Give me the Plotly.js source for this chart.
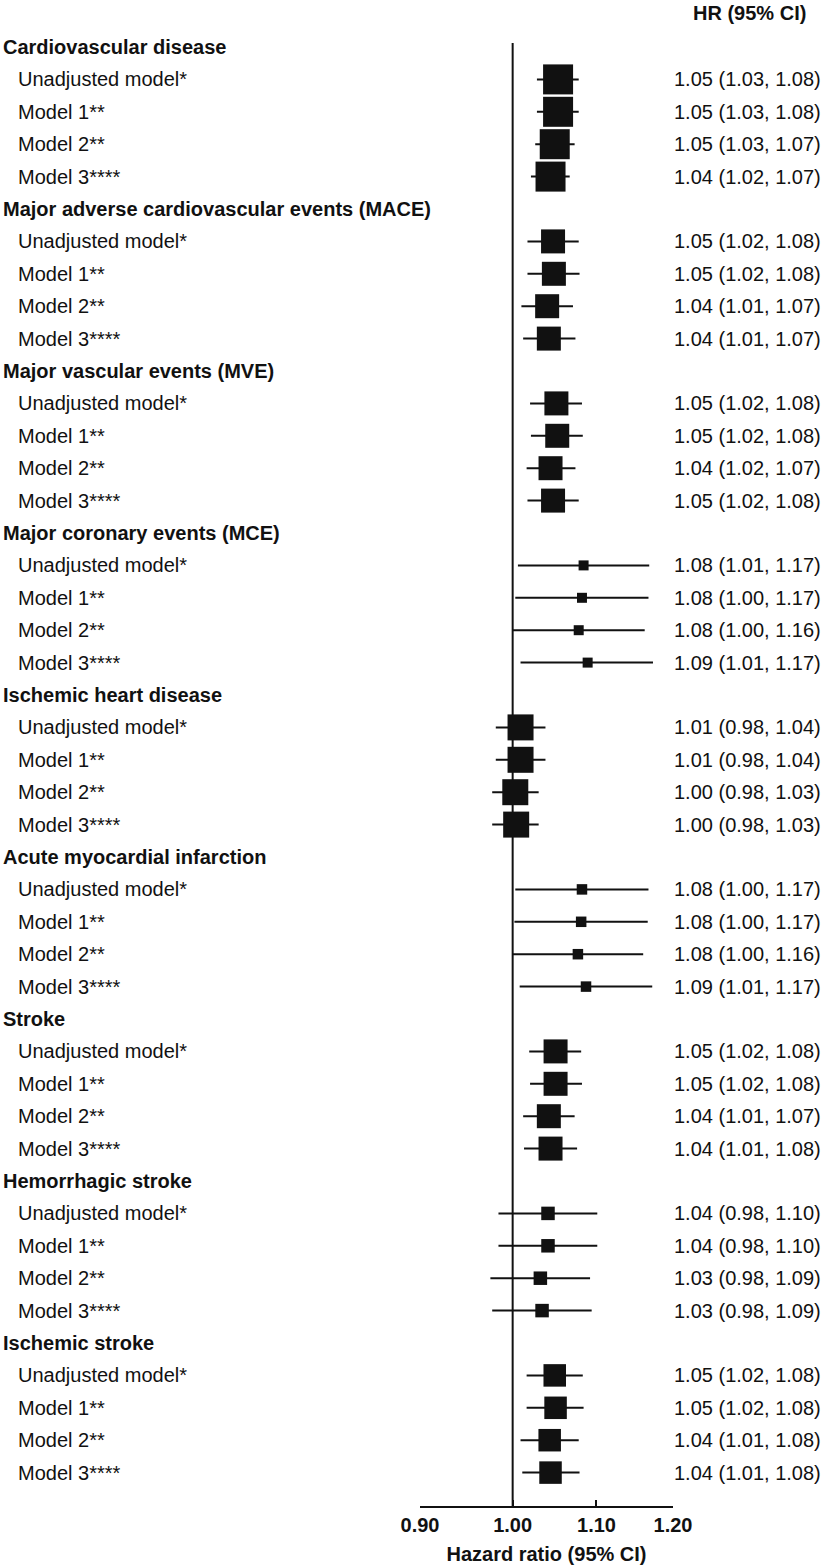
<!DOCTYPE html>
<html>
<head>
<meta charset="utf-8">
<script src="https://cdn.plot.ly/plotly-3.0.1.min.js"></script>
<style>
  html, body { margin: 0; padding: 0; background: #fff; }
  #chart { width: 825px; height: 1565px; }
</style>
</head>
<body>
<div id="chart"></div>
<script>
// ---------------- DATA ----------------
const outcomes = [
  'Cardiovascular disease',
  'Major adverse cardiovascular events (MACE)',
  'Major vascular events (MVE)',
  'Major coronary events (MCE)',
  'Ischemic heart disease',
  'Acute myocardial infarction',
  'Stroke',
  'Hemorrhagic stroke',
  'Ischemic stroke'
];
const models = ['Unadjusted model*', 'Model 1**', 'Model 2**', 'Model 3****'];

// hazard ratio point estimates (per outcome, 4 models each)
const hr = [
  1.053, 1.053, 1.049, 1.044,
  1.047, 1.048, 1.040, 1.042,
  1.051, 1.052, 1.044, 1.047,
  1.084, 1.082, 1.078, 1.089,
  1.009, 1.009, 1.003, 1.004,
  1.082, 1.081, 1.077, 1.087,
  1.050, 1.050, 1.042, 1.044,
  1.041, 1.041, 1.032, 1.034,
  1.049, 1.050, 1.043, 1.044
];
const ciLow = [
  1.028, 1.028, 1.026, 1.021,
  1.017, 1.017, 1.010, 1.012,
  1.020, 1.021, 1.016, 1.017,
  1.006, 1.003, 1.000, 1.009,
  0.981, 0.981, 0.977, 0.977,
  1.003, 1.002, 1.000, 1.008,
  1.019, 1.020, 1.012, 1.013,
  0.984, 0.984, 0.975, 0.977,
  1.016, 1.016, 1.009, 1.011
];
const ciHigh = [
  1.078, 1.078, 1.073, 1.067,
  1.078, 1.079, 1.071, 1.074,
  1.082, 1.083, 1.074, 1.078,
  1.168, 1.167, 1.162, 1.173,
  1.038, 1.038, 1.030, 1.030,
  1.167, 1.166, 1.160, 1.172,
  1.081, 1.082, 1.073, 1.076,
  1.101, 1.101, 1.092, 1.094,
  1.083, 1.084, 1.078, 1.079
];
const ciText = [
  '1.05 (1.03, 1.08)', '1.05 (1.03, 1.08)', '1.05 (1.03, 1.07)', '1.04 (1.02, 1.07)',
  '1.05 (1.02, 1.08)', '1.05 (1.02, 1.08)', '1.04 (1.01, 1.07)', '1.04 (1.01, 1.07)',
  '1.05 (1.02, 1.08)', '1.05 (1.02, 1.08)', '1.04 (1.02, 1.07)', '1.05 (1.02, 1.08)',
  '1.08 (1.01, 1.17)', '1.08 (1.00, 1.17)', '1.08 (1.00, 1.16)', '1.09 (1.01, 1.17)',
  '1.01 (0.98, 1.04)', '1.01 (0.98, 1.04)', '1.00 (0.98, 1.03)', '1.00 (0.98, 1.03)',
  '1.08 (1.00, 1.17)', '1.08 (1.00, 1.17)', '1.08 (1.00, 1.16)', '1.09 (1.01, 1.17)',
  '1.05 (1.02, 1.08)', '1.05 (1.02, 1.08)', '1.04 (1.01, 1.07)', '1.04 (1.01, 1.08)',
  '1.04 (0.98, 1.10)', '1.04 (0.98, 1.10)', '1.03 (0.98, 1.09)', '1.03 (0.98, 1.09)',
  '1.05 (1.02, 1.08)', '1.05 (1.02, 1.08)', '1.04 (1.01, 1.08)', '1.04 (1.01, 1.08)'
];
// relative study weight per outcome (drives box size)
const outcomeWeight = [30, 24, 24, 10, 26, 10.5, 24, 13.5, 22.5];

const tickVals = [0.90, 1.00, 1.10, 1.20];
const tickText = ['0.90', '1.00', '1.10', '1.20'];

// ---------------- BUILD ----------------
const FONT = 'Liberation Sans, Arial, Helvetica, sans-serif';
const INK = '#111111';
const L_MARGIN = 420, R_MARGIN = 152, T_MARGIN = 43, B_MARGIN = 59;
const PLOT_W = 825 - L_MARGIN - R_MARGIN;
const ROWS_PER_GROUP = models.length + 1;
const ROW_TOP = 47, ROW_PITCH = 32.4;
const plotTopPx = T_MARGIN, plotBotPx = 1565 - B_MARGIN;
const yTop = (plotTopPx - ROW_TOP) / ROW_PITCH;
const yBot = (plotBotPx - ROW_TOP) / ROW_PITCH;
const px2paperX = px => (px - L_MARGIN) / PLOT_W;
const px2paperY = px => (plotBotPx - px) / (plotBotPx - plotTopPx);

const xs = [], ys = [], plus = [], minus = [], sizes = [];
const annotations = [];
outcomes.forEach((name, g) => {
  const headerRow = g * ROWS_PER_GROUP;
  annotations.push({
    xref: 'paper', yref: 'y', x: px2paperX(1), y: headerRow,
    xanchor: 'left', yanchor: 'middle', showarrow: false,
    text: '<b>' + name + '</b>',
    font: { family: FONT, size: 20, color: INK }
  });
  models.forEach((m, k) => {
    const i = g * models.length + k;
    const row = headerRow + 1 + k;
    xs.push(hr[i]); ys.push(row);
    plus.push(ciHigh[i] - hr[i]); minus.push(hr[i] - ciLow[i]);
    sizes.push(outcomeWeight[g]);
    annotations.push({
      xref: 'paper', yref: 'y', x: px2paperX(16), y: row,
      xanchor: 'left', yanchor: 'middle', showarrow: false,
      text: m, font: { family: FONT, size: 20, color: INK }
    });
    annotations.push({
      xref: 'paper', yref: 'y', x: px2paperX(823), y: row,
      xanchor: 'right', yanchor: 'middle', showarrow: false,
      text: ciText[i], font: { family: FONT, size: 20, color: INK }
    });
  });
});
annotations.push({
  xref: 'paper', yref: 'paper', x: px2paperX(808), y: px2paperY(13),
  xanchor: 'right', yanchor: 'middle', showarrow: false,
  text: '<b>HR (95% CI)</b>', font: { family: FONT, size: 20, color: INK }
});

const trace = {
  type: 'scatter', mode: 'markers', x: xs, y: ys,
  marker: { symbol: 'square', size: sizes, color: INK, opacity: 1, line: { width: 0 } },
  error_x: { type: 'data', symmetric: false, array: plus, arrayminus: minus,
             color: INK, thickness: 2, width: 0 },
  hoverinfo: 'x+y', cliponaxis: false
};

const layout = {
  width: 825, height: 1565,
  margin: { l: L_MARGIN, r: R_MARGIN, t: T_MARGIN, b: B_MARGIN, pad: 0 },
  paper_bgcolor: '#fff', plot_bgcolor: '#fff',
  showlegend: false,
  font: { family: FONT, color: INK },
  xaxis: {
    type: 'log',
    range: [Math.log10(tickVals[0]), Math.log10(tickVals[tickVals.length - 1])],
    tickvals: tickVals, ticktext: tickText,
    ticks: 'inside', ticklen: 6, tickwidth: 2, tickcolor: INK,
    showline: true, linecolor: INK, linewidth: 2,
    showgrid: false, zeroline: false,
    tickfont: { family: FONT, size: 20, color: INK, weight: 'bold' },
    title: { text: '<b>Hazard ratio (95% CI)</b>', font: { family: FONT, size: 20, color: INK }, standoff: 12 },
    automargin: false, fixedrange: true
  },
  yaxis: {
    range: [yBot, yTop], visible: false, showgrid: false, zeroline: false, fixedrange: true
  },
  shapes: [{
    type: 'line', xref: 'x', yref: 'paper', x0: 1, x1: 1, y0: 0, y1: 1,
    line: { color: INK, width: 2 }, layer: 'below'
  }],
  annotations: annotations
};

Plotly.newPlot('chart', [trace], layout, { displayModeBar: false, staticPlot: true });
</script>
</body>
</html>
